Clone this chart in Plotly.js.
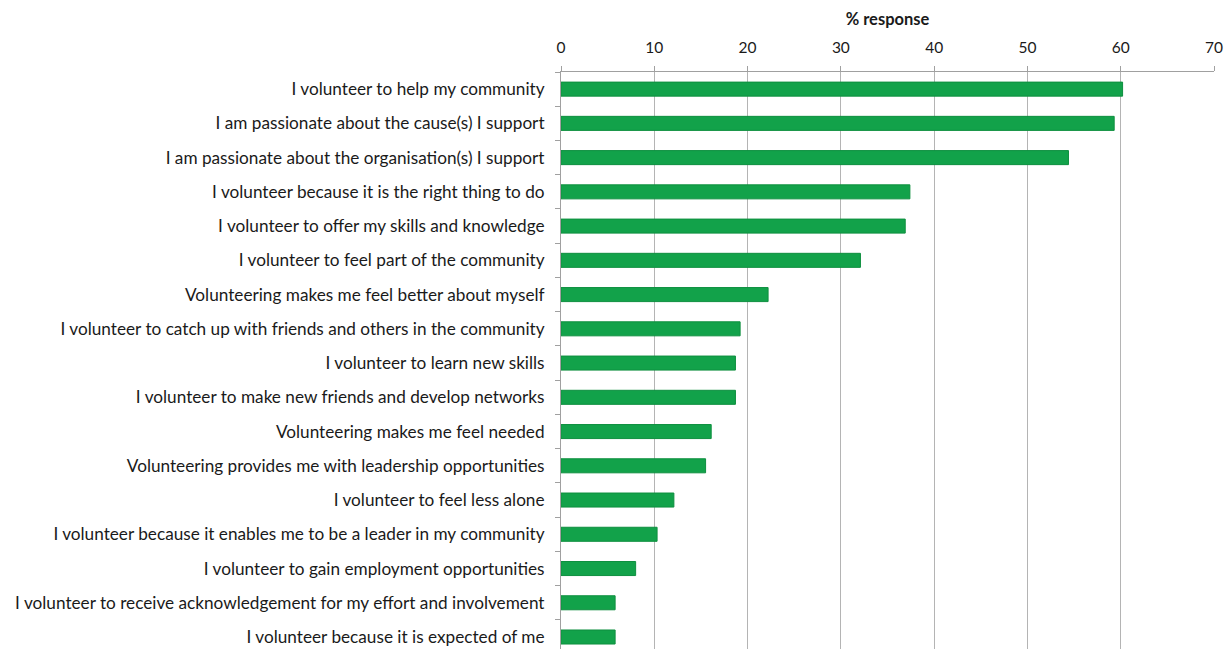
<!DOCTYPE html>
<html>
<head>
<meta charset="utf-8">
<script src="https://cdn.plot.ly/plotly-3.0.1.min.js"></script>
<style>html,body{margin:0;padding:0;background:#fff;}#chart{width:1225px;height:649px;}</style>
</head>
<body>
<div id="chart"></div>
<script>
const categories = [
  "I volunteer to help my community",
  "I am passionate about the cause(s) I support",
  "I am passionate about the organisation(s) I support",
  "I volunteer because it is the right thing to do",
  "I volunteer to offer my skills and knowledge",
  "I volunteer to feel part of the community",
  "Volunteering makes me feel better about myself",
  "I volunteer to catch up with friends and others in the community",
  "I volunteer to learn new skills",
  "I volunteer to make new friends and develop networks",
  "Volunteering makes me feel needed",
  "Volunteering provides me with leadership opportunities",
  "I volunteer to feel less alone",
  "I volunteer because it enables me to be a leader in my community",
  "I volunteer to gain employment opportunities",
  "I volunteer to receive acknowledgement for my effort and involvement",
  "I volunteer because it is expected of me"
];
const responses = [60.2, 59.3, 54.4, 37.4, 36.9, 32.1, 22.2, 19.2, 18.7, 18.7, 16.1, 15.5, 12.1, 10.3, 8.0, 5.8, 5.8];
const xTicks = [0, 10, 20, 30, 40, 50, 60, 70];

const trace = {
  type: 'bar',
  orientation: 'h',
  x: responses,
  y: categories,
  width: 0.41,
  marker: {color: '#12a24a', line: {color: '#0e8f3f', width: 1}},
  hoverinfo: 'x+y'
};

const layout = {
  width: 1225,
  height: 649,
  margin: {l: 561, r: 11, t: 72, b: 0, pad: 0},
  paper_bgcolor: '#ffffff',
  plot_bgcolor: '#ffffff',
  font: {family: 'Lato, "Open Sans", sans-serif', size: 14, color: '#1a1a1a'},
  showlegend: false,
  bargap: 0.59,
  xaxis: {
    side: 'top',
    range: [0, 70],
    tickvals: xTicks,
    ticktext: xTicks.map(String),
    showgrid: true,
    gridcolor: '#b4b4b4',
    gridwidth: 1,
    showline: true,
    linecolor: '#a0a0a0',
    linewidth: 1,
    ticks: 'outside',
    ticklen: 5,
    tickcolor: '#a0a0a0',
    ticklabelstandoff: 7,
    tickfont: {size: 15.5, color: '#1a1a1a'},
    zeroline: false,
    fixedrange: true,
    title: {text: '<b>% response</b>', font: {size: 16.5, color: '#1a1a1a'}, standoff: 8}
  },
  yaxis: {
    type: 'category',
    categoryorder: 'array',
    categoryarray: categories,
    range: [16.35, -0.5],
    showline: true,
    linecolor: '#a0a0a0',
    linewidth: 1,
    ticks: 'outside',
    tickson: 'boundaries',
    ticklen: 5,
    tickcolor: '#a0a0a0',
    ticklabelstandoff: 12,
    showgrid: false,
    zeroline: false,
    fixedrange: true,
    tickfont: {size: 17.2, color: '#1a1a1a'}
  }
};

Plotly.newPlot('chart', [trace], layout, {displayModeBar: false, staticPlot: true});
</script>
</body>
</html>
